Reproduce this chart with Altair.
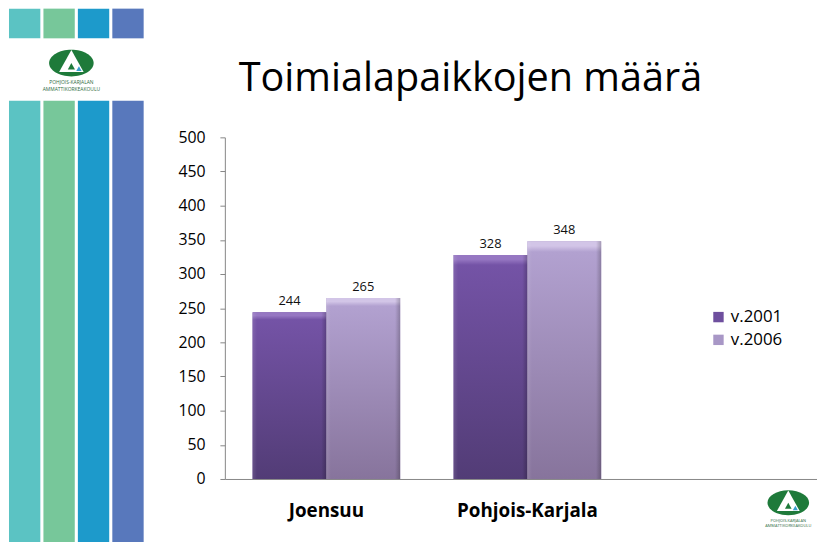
import altair as alt
import pandas as pd

# ---- data ----
categories = ["Joensuu", "Pohjois-Karjala"]
series = ["v.2001", "v.2006"]
values_2001 = [244, 328]
values_2006 = [265, 348]
y_ticks = [0, 50, 100, 150, 200, 250, 300, 350, 400, 450, 500]
title_text = "Toimialapaikkojen määrä"
stripe_names = ["s1", "s2", "s3", "s4"]
stripe_colors = ["#5BC3C3", "#77C79A", "#1D9ACB", "#5878BC"]
logo_lines = ["POHJOIS-KARJALAN", "AMMATTIKORKEAKOULU"]

rows = []
for s, vals in zip(series, [values_2001, values_2006]):
    for c, v in zip(categories, vals):
        rows.append({"alue": c, "vuosi": s, "maara": v})
df = pd.DataFrame(rows)
stripes_df = pd.DataFrame({"stripe": stripe_names, "color": stripe_colors})
one = pd.DataFrame({"k": [0]})

FONT = "Open Sans"
AXIS_GRAY = "#868686"

x_enc = alt.X(
    "alue:N",
    scale=alt.Scale(domain=categories, paddingInner=0.266, paddingOuter=0.606, align=0.114),
    axis=alt.Axis(title=None, labelAngle=0, ticks=False, domainColor=AXIS_GRAY,
                  labelFont=FONT, labelFontWeight="bold", labelFontSize=19,
                  labelColor="#000000", labelPadding=23),
)
xo_enc = alt.XOffset("vuosi:N", scale=alt.Scale(domain=series, paddingInner=0, paddingOuter=0))
y_enc = alt.Y(
    "maara:Q",
    scale=alt.Scale(domain=[0, 500], nice=False),
    axis=alt.Axis(title=None, values=y_ticks, grid=False, tickSize=5, tickColor=AXIS_GRAY,
                  domainColor=AXIS_GRAY, labelFont=FONT, labelFontSize=16,
                  labelColor="#000000", labelPadding=15),
)

base = alt.Chart(df)

solid = base.mark_bar().encode(
    x=x_enc, xOffset=xo_enc, y=y_enc,
    color=alt.Color("vuosi:N", scale=alt.Scale(domain=series, range=["#6E4F9E", "#A897C6"]),
                    legend=alt.Legend(title=None, orient="none", legendX=490, legendY=173,
                                      symbolType="square", symbolSize=110, symbolStrokeWidth=0,
                                      labelFont=FONT, labelFontSize=17, labelColor="#000000",
                                      labelOffset=4, rowPadding=5, padding=0)),
)

def grad(c_top, c_face, c_bot):
    return alt.LinearGradient(
        gradient="linear", x1=0, x2=0, y1=0, y2=1,
        stops=[alt.GradientStop(color=c_top, offset=0),
               alt.GradientStop(color=c_top, offset=0.02),
               alt.GradientStop(color=c_face, offset=0.045),
               alt.GradientStop(color=c_bot, offset=1)],
    )

g1 = base.mark_bar(fill=grad("#9677C2", "#7453A6", "#523C76")).encode(
    x=x_enc, xOffset=xo_enc, y=y_enc).transform_filter(alt.datum.vuosi == series[0])
g2 = base.mark_bar(fill=grad("#D2C5E7", "#B2A1D0", "#87749C")).encode(
    x=x_enc, xOffset=xo_enc, y=y_enc).transform_filter(alt.datum.vuosi == series[1])

side_shade = alt.LinearGradient(
    gradient="linear", x1=0, x2=1, y1=0, y2=0,
    stops=[alt.GradientStop(color="rgba(255,255,255,0.10)", offset=0),
           alt.GradientStop(color="rgba(255,255,255,0)", offset=0.06),
           alt.GradientStop(color="rgba(0,0,0,0)", offset=0.93),
           alt.GradientStop(color="rgba(0,0,0,0.22)", offset=1)],
)
shade = base.mark_bar(fill=side_shade).encode(x=x_enc, xOffset=xo_enc, y=y_enc)

labels = base.mark_text(baseline="alphabetic", dy=-7, font=FONT, fontSize=13, color="#111111").encode(
    x=x_enc, xOffset=xo_enc, y=y_enc, text="maara:Q")

bars = alt.layer(solid, g1, g2, shade, labels)

# ---- slide title ----
title = alt.Chart(one).mark_text(text=title_text, font=FONT, fontSize=40, color="#000000",
                                 align="center", baseline="alphabetic").encode(
    x=alt.value(248), y=alt.value(-47))

# ---- decorative slide stripes ----
sx = alt.X("stripe:N", scale=alt.Scale(domain=stripe_names, range=[-218, -82],
                                       paddingInner=0.09, paddingOuter=0), axis=None)
stripes_top = alt.Chart(stripes_df).mark_rect().encode(
    x=sx, y=alt.value(-130), y2=alt.value(-100), color=alt.Color("color:N", scale=None))
stripes_bot = alt.Chart(stripes_df).mark_rect().encode(
    x=sx, y=alt.value(-37), y2=alt.value(420), color=alt.Color("color:N", scale=None))

ELLIPSE = "M -1 0 A 1 0.6 0 1 1 1 0 A 1 0.6 0 1 1 -1 0 Z"
TRI = "M 0 -1 L 1 0.8 L -1 0.8 Z"

def logo(cx, cy, w, fs, t1, t2):
    return [
        alt.Chart(one).mark_point(shape=ELLIPSE, filled=True, opacity=1, color="#1E7A3A",
                                  size=w * w).encode(x=alt.value(cx), y=alt.value(cy)),
        alt.Chart(one).mark_point(shape=TRI, filled=True, opacity=1, color="#FFFFFF",
                                  size=(w * 0.55) ** 2).encode(x=alt.value(cx), y=alt.value(cy - w * 0.02)),
        alt.Chart(one).mark_point(shape=TRI, filled=True, opacity=1, color="#1E7A3A",
                                  size=(w * 0.16) ** 2).encode(x=alt.value(cx), y=alt.value(cy + w * 0.08)),
        alt.Chart(one).mark_point(shape=TRI, filled=True, opacity=1, color="#3AA0D0",
                                  size=(w * 0.12) ** 2).encode(x=alt.value(cx + w * 0.17), y=alt.value(cy + w * 0.13)),
        alt.Chart(one).mark_text(text=logo_lines[0], fontSize=fs, font=FONT,
                                 color="#2E6B3E").encode(x=alt.value(cx), y=alt.value(t1)),
        alt.Chart(one).mark_text(text=logo_lines[1], fontSize=fs, font=FONT,
                                 color="#2E6B3E").encode(x=alt.value(cx), y=alt.value(t2)),
    ]

chart = alt.layer(
    stripes_top, stripes_bot, title,
    *logo(-155, -75, 45, 5, -56, -49),
    *logo(569, 369, 42, 4, 387, 392),
    bars,
).resolve_scale(x="independent", y="independent", color="independent").properties(
    width=598, height=345,
    autosize=alt.AutoSizeParams(type="none"),
    padding={"left": 219, "top": 128, "right": 0, "bottom": 61},
    background="#FFFFFF",
).configure_view(stroke=None)

chart.save("out.html", embed_options={"renderer": "svg", "actions": False})
